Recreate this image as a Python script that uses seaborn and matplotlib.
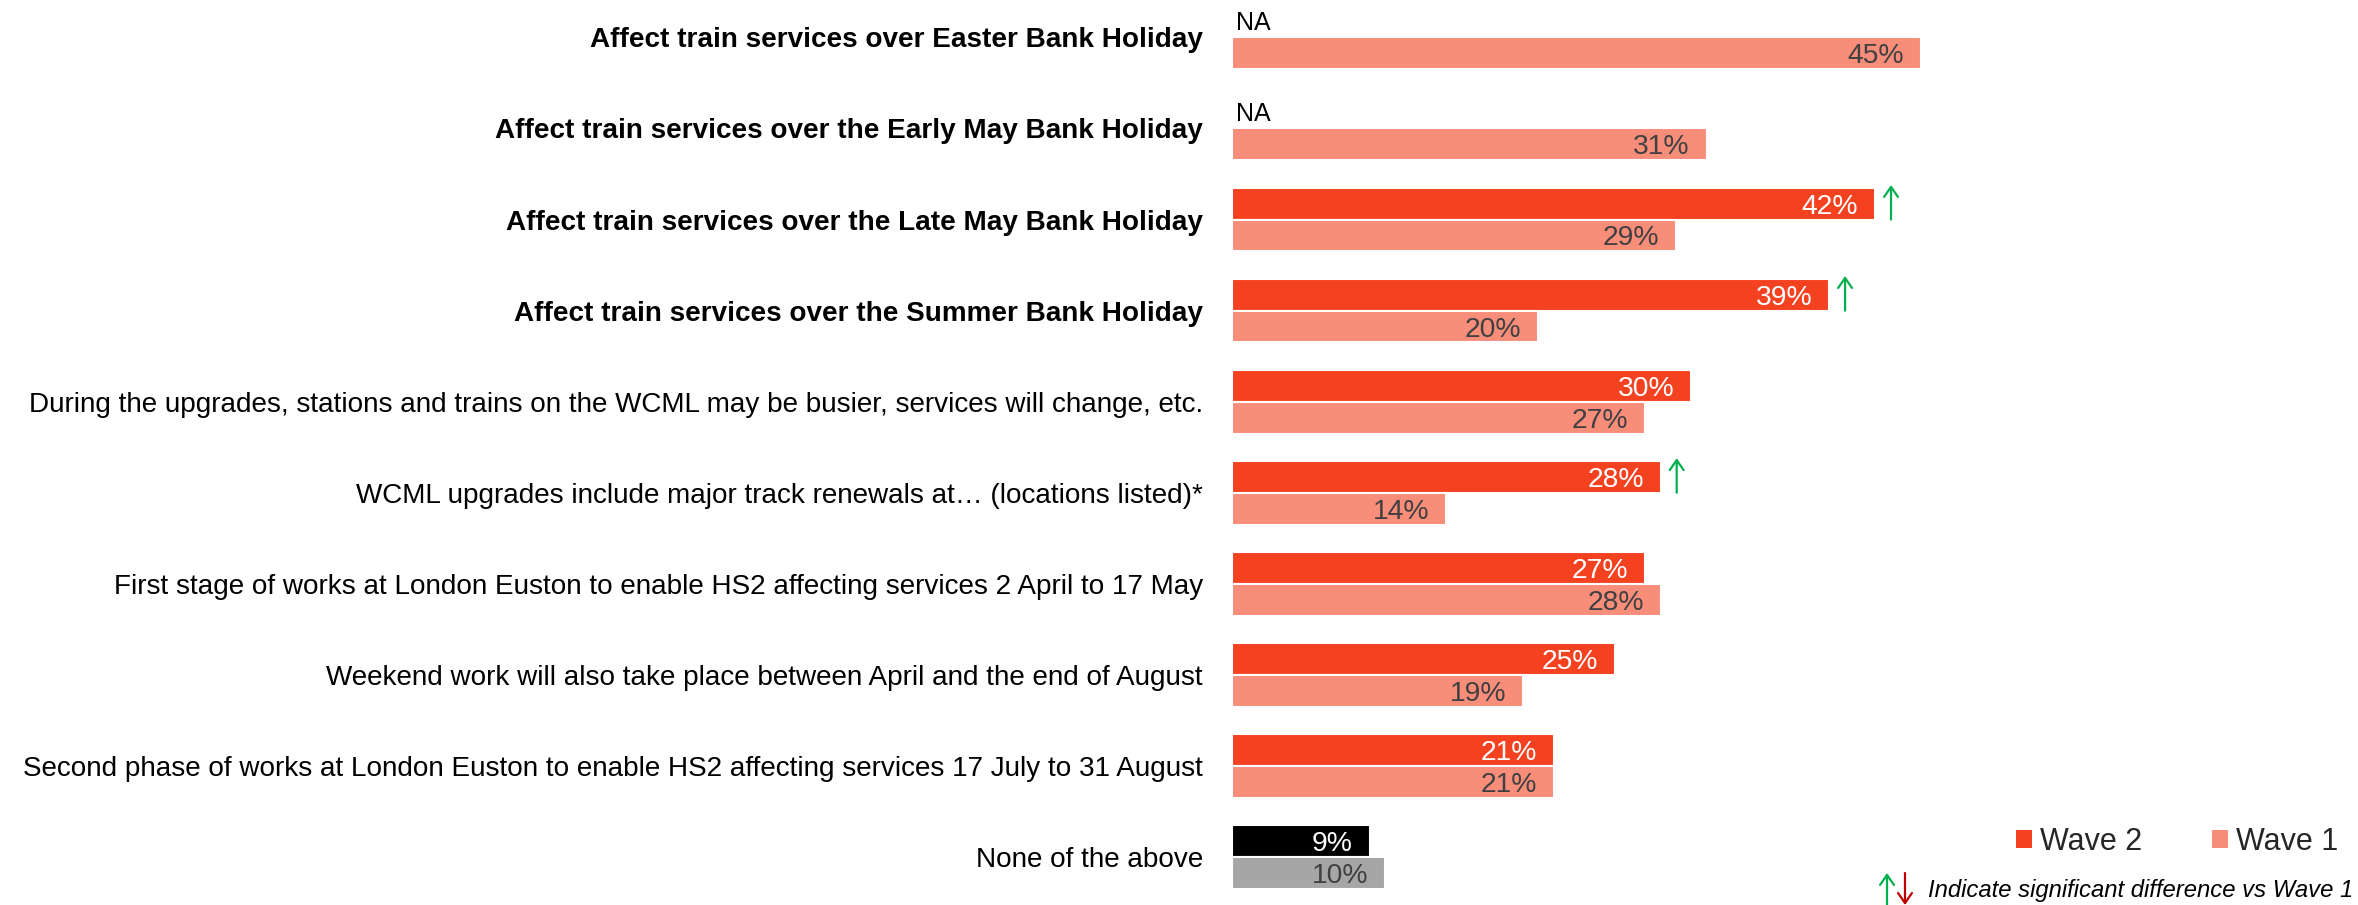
import numpy as np
import pandas as pd
import matplotlib
matplotlib.use("Agg")
import matplotlib.pyplot as plt
from matplotlib.patches import Patch
import seaborn as sns

# Survey statements (top to bottom)
statements = [
    "Affect train services over Easter Bank Holiday",
    "Affect train services over the Early May Bank Holiday",
    "Affect train services over the Late May Bank Holiday",
    "Affect train services over the Summer Bank Holiday",
    "During the upgrades, stations and trains on the WCML may be busier, services will change, etc.",
    "WCML upgrades include major track renewals at\u2026 (locations listed)*",
    "First stage of works at London Euston to enable HS2 affecting services 2 April to 17 May",
    "Weekend work will also take place between April and the end of August",
    "Second phase of works at London Euston to enable HS2 affecting services 17 July to 31 August",
    "None of the above",
]
bold_rows = [0, 1, 2, 3]

# Percentages per wave (NaN = not asked in that wave)
wave2 = [np.nan, np.nan, 42, 39, 30, 28, 27, 25, 21, 9]
wave1 = [45, 31, 29, 20, 27, 14, 28, 19, 21, 10]
# Significant increase vs Wave 1
sig_up = [2, 3, 5]

waves = ["Wave 2", "Wave 1"]
colors = {"Wave 2": "#F4411F", "Wave 1": "#F88D7A"}
none_colors = {"Wave 2": "#000000", "Wave 1": "#A6A6A6"}
label_colors = {"Wave 2": "white", "Wave 1": "#404040"}

df = pd.DataFrame({
    "statement": statements * 2,
    "wave": ["Wave 2"] * len(statements) + ["Wave 1"] * len(statements),
    "value": wave2 + wave1,
})

sns.set_style("white")
plt.rcParams["font.family"] = ["Liberation Sans", "DejaVu Sans"]

W, H = 2358, 905
fig = plt.figure(figsize=(W / 100, H / 100), dpi=100)
ax_left = 1232 / W
ax = fig.add_axes([ax_left, 0, 1 - ax_left, 1])

bar_w = 0.70
sns.barplot(data=df, x="value", y="statement", hue="wave", hue_order=waves,
            order=statements, palette=colors, saturation=1, width=bar_w, orient="h",
            edgecolor="white", linewidth=1.5, legend=False, ax=ax, errorbar=None)

px_per_pct = 15.31
ax.set_xlim(0, (W - 1232) / px_per_pct)
ax.set_ylim(9.527, -0.411)

# Recolour the "None of the above" bars and add value labels
for cont, wave in zip(ax.containers, waves):
    for patch in cont.patches:
        w = patch.get_width()
        if not np.isfinite(w) or w == 0:
            continue
        yc = patch.get_y() + patch.get_height() / 2
        row = int(round(yc))
        if statements[row] == "None of the above":
            patch.set_facecolor(none_colors[wave])
        ax.annotate(f"{w:.0f}%", xy=(w, yc), xytext=(-12.2, 0),
                    textcoords="offset points", ha="right", va="center_baseline",
                    fontsize=20.3, color=label_colors[wave])

# "NA" markers where Wave 2 was not asked
half = bar_w / 4
for i, v in enumerate(wave2):
    if not np.isfinite(v):
        ax.annotate("NA", xy=(0, i - half), xytext=(3, 1), textcoords="offset points",
                    ha="left", va="center_baseline", fontsize=18, color="black")

# Significance arrows next to Wave 2 bars
arrow_style = "->,head_length=0.36,head_width=0.25"
for i in sig_up:
    v = wave2[i]
    x = v + 16 / px_per_pct
    ax.annotate("", xy=(x, i - bar_w / 2 - 0.03), xytext=(x, i),
                arrowprops=dict(arrowstyle=arrow_style, color="#00B050", lw=1.6,
                                mutation_scale=20, shrinkA=0, shrinkB=0))

ax.set_xlabel("")
ax.set_ylabel("")
ax.set_xticks([])
ax.tick_params(axis="y", length=0, pad=21, labelsize=20.1, labelcolor="black")
for i, lbl in enumerate(ax.get_yticklabels()):
    if i in bold_rows:
        lbl.set_fontweight("bold")
sns.despine(ax=ax, left=True, bottom=True)

# Legend
handles = [Patch(facecolor=colors[w], edgecolor="none", label=w) for w in waves]
fig.legend(handles=handles, loc="center left", bbox_to_anchor=(2016 / W, 1 - 842 / H),
           ncol=2, frameon=False, fontsize=22, borderpad=0, borderaxespad=0,
           handlelength=0.52, handleheight=0.52, handletextpad=0.26, columnspacing=2.3)

# Significance footnote
fig.text(1928 / W, 1 - 890 / H, "Indicate significant difference vs Wave 1",
         ha="left", va="center", fontsize=17.2, style="italic", color="black")
note_ax = fig.add_axes([0, 0, 1, 1], facecolor="none")
note_ax.set_axis_off()
note_ax.set_xlim(0, W)
note_ax.set_ylim(H, 0)
note_ax.annotate("", xy=(1887, 873), xytext=(1887, 905),
                 arrowprops=dict(arrowstyle=arrow_style, color="#00B050", lw=1.6,
                                 mutation_scale=20, shrinkA=0, shrinkB=0))
note_ax.annotate("", xy=(1905, 905), xytext=(1905, 873),
                 arrowprops=dict(arrowstyle=arrow_style, color="#C00000", lw=1.6,
                                 mutation_scale=20, shrinkA=0, shrinkB=0))

fig.savefig("out.png", dpi=100)
